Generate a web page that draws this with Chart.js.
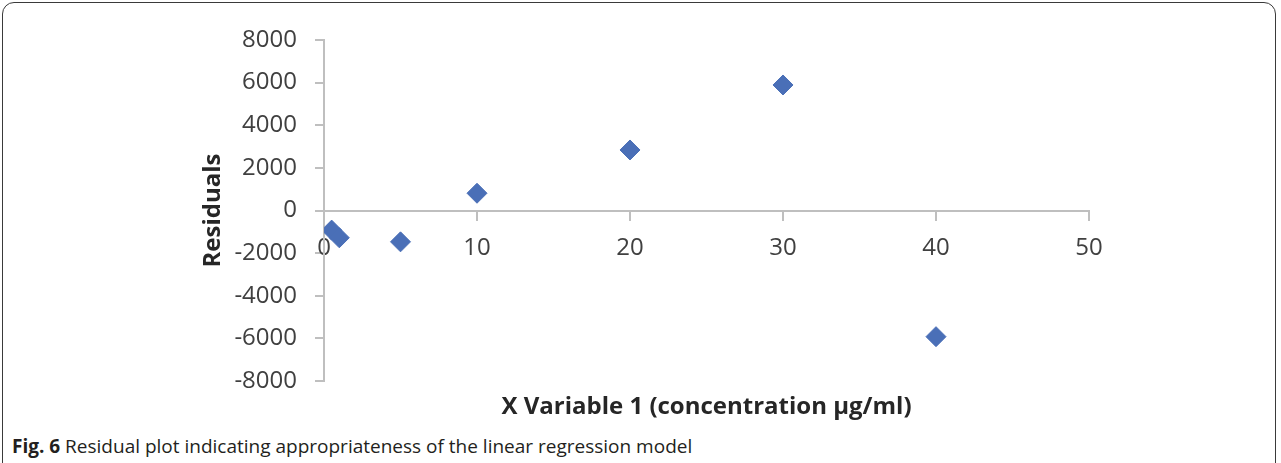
<!DOCTYPE html>
<html>
<head>
<meta charset="utf-8">
<script src="https://cdn.jsdelivr.net/npm/chart.js@4.4.1/dist/chart.umd.min.js"></script>
<style>
  html, body { margin: 0; padding: 0; background: #fff; }
  #wrap { position: relative; width: 1281px; height: 463px; overflow: hidden; background: #fff; }
  #frame { position: absolute; left: 2px; top: 2px; width: 1274px; height: 500px;
           border: 1.5px solid #3a3a3a; border-radius: 12px 12px 0 0; box-sizing: border-box; }
  #box { position: absolute; left: 0; top: 0; width: 1281px; height: 425px; }
  #caption { position: absolute; left: 12px; top: 434px; font-family: "Open Sans", sans-serif;
             font-size: 19px; color: #231f20; white-space: nowrap; line-height: 24px; }
  #caption b { font-weight: 700; }
</style>
</head>
<body>
<div id="wrap">
  <div id="frame"></div>
  <div id="box"><canvas id="c"></canvas></div>
  <div id="caption"><b>Fig. 6</b> Residual plot indicating appropriateness of the linear regression model</div>
</div>
<script>
const concentrations = [0.5, 1, 5, 10, 20, 30, 40];
const residuals = [-920, -1280, -1470, 810, 2840, 5890, -5920];
const xTitle = 'X Variable 1 (concentration µg/ml)';
const yTitle = 'Residuals';
const xRange = [0, 50];
const yRange = [-8000, 8000];

const points = concentrations.map((x, i) => ({ x: x, y: residuals[i] }));
const axisColor = '#bfbfbf';
const tickFont = { family: 'Open Sans', size: 24 };
const plain = (v) => String(v);

new Chart(document.getElementById('c'), {
  type: 'scatter',
  data: {
    datasets: [{
      data: points,
      pointStyle: 'rectRot',
      pointRadius: 10,
      pointHoverRadius: 10,
      backgroundColor: '#4a6fb7',
      borderColor: '#4a6fb7',
      borderWidth: 1
    }]
  },
  options: {
    responsive: true,
    maintainAspectRatio: false,
    animation: false,
    layout: { padding: { left: 199, right: 192, top: 40, bottom: 3.6 } },
    plugins: {
      legend: { display: false },
      tooltip: { enabled: false },
      title: {
        display: true,
        position: 'bottom',
        fullSize: false,
        text: xTitle,
        color: '#262626',
        font: { family: 'Open Sans', size: 24, weight: 'bold', lineHeight: 1.2 },
        padding: { top: 11.6, bottom: 0 }
      }
    },
    scales: {
      x: {
        type: 'linear',
        position: { y: 0 },
        min: xRange[0], max: xRange[1],
        ticks: { stepSize: 10, color: '#404040', font: tickFont, padding: 14, maxRotation: 0, callback: plain },
        grid: { drawOnChartArea: false, drawTicks: true, tickLength: 9, color: axisColor, lineWidth: 2 },
        border: { display: true, color: axisColor, width: 2 }
      },
      y: {
        type: 'linear',
        position: 'left',
        min: yRange[0], max: yRange[1],
        afterFit: (s) => { s.width = 125; },
        ticks: { stepSize: 2000, color: '#404040', font: tickFont, padding: 18, callback: plain },
        grid: { drawOnChartArea: false, drawTicks: true, tickLength: 9, color: axisColor, lineWidth: 2 },
        border: { display: true, color: axisColor, width: 2 },
        title: {
          display: true, text: yTitle, color: '#262626',
          font: { family: 'Open Sans', size: 24, weight: 'bold', lineHeight: 1.2 },
          padding: 0
        }
      }
    }
  }
});
</script>
</body>
</html>
